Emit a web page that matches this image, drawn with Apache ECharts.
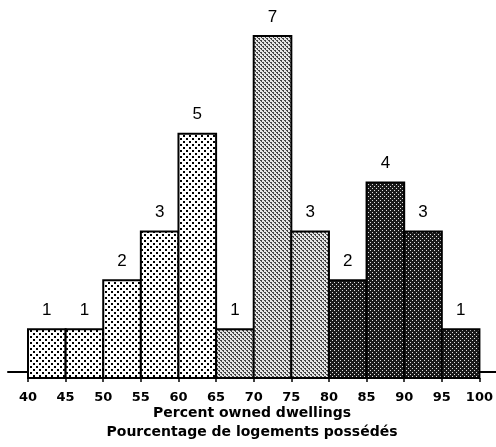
<!DOCTYPE html>
<html>
<head>
<meta charset="utf-8">
<script src="https://cdn.jsdelivr.net/npm/echarts@6/dist/echarts.min.js"></script>
<style>html,body{margin:0;padding:0;background:#fff;}#chart{width:496px;height:447px;}</style>
</head>
<body>
<div id="chart"></div>
<script>
// Data
const binStarts = [40, 45, 50, 55, 60, 65, 70, 75, 80, 85, 90, 95];
const binEnds   = [45, 50, 55, 60, 65, 70, 75, 80, 85, 90, 95, 100];
const counts    = [1, 1, 2, 3, 5, 1, 7, 3, 2, 4, 3, 1];
const groups    = ['light', 'light', 'light', 'light', 'light', 'medium', 'medium', 'medium', 'dark', 'dark', 'dark', 'dark'];
const tickValues = [40, 45, 50, 55, 60, 65, 70, 75, 80, 85, 90, 95, 100];
const axisTitle = 'Percent owned dwellings\nPourcentage de logements possédés';

function makePattern(size, bg, fg, pts) {
  const c = document.createElement('canvas');
  c.width = size; c.height = size;
  const ctx = c.getContext('2d');
  ctx.fillStyle = bg; ctx.fillRect(0, 0, size, size);
  ctx.fillStyle = fg;
  pts.forEach(p => ctx.fillRect(p[0], p[1], p[2] || 1, p[3] || 1));
  return { image: c, repeat: 'repeat' };
}
const patterns = {
  light: makePattern(6, '#ffffff', '#000000', [[0,0,2,2],[3,3,2,2]]),
  medium: makePattern(4, '#e4e4e4', '#444444', [[0,0],[1,0],[2,2],[3,2],[1,1],[3,3]]),
  dark: makePattern(4, '#1a1a1a', '#e0e0e0', [[0,0],[2,2]])
};

const data = binStarts.map((s, i) => [s, binEnds[i], counts[i], i]);

const chart = echarts.init(document.getElementById('chart'), null, { renderer: 'canvas' });
chart.setOption({
  animation: false,
  backgroundColor: '#ffffff',
  grid: [
    { left: 28, right: 14, top: 36, bottom: 69 },
    { left: 8, right: 0, top: 36, bottom: 69 }
  ],
  xAxis: [
    {
      type: 'value', gridIndex: 0, min: 40, max: 100, interval: 5,
      axisLine: { show: false },
      axisTick: { show: true, length: 4, lineStyle: { color: '#000', width: 1.5 } },
      axisLabel: {
        color: '#000', fontFamily: 'DejaVu Sans', fontWeight: 'bold', fontSize: 13, margin: 13,
        formatter: v => tickValues.indexOf(v) >= 0 ? String(v) : ''
      },
      splitLine: { show: false }
    },
    {
      type: 'value', gridIndex: 1, min: 0, max: 1,
      axisLine: { show: true, onZero: false, lineStyle: { color: '#000', width: 2 } },
      axisTick: { show: false }, axisLabel: { show: false }, splitLine: { show: false },
      name: axisTitle, nameLocation: 'middle', nameGap: 32,
      nameTextStyle: { color: '#000', fontFamily: 'DejaVu Sans', fontWeight: 'bold', fontSize: 14, lineHeight: 19 }
    }
  ],
  yAxis: [
    { type: 'value', gridIndex: 0, min: 0, max: 7, show: false },
    { type: 'value', gridIndex: 1, min: 0, max: 1, show: false }
  ],
  series: [{
    type: 'custom',
    xAxisIndex: 0, yAxisIndex: 0,
    data: data,
    renderItem: function (params, api) {
      const x0 = api.value(0), x1 = api.value(1), v = api.value(2);
      const idx = api.value(3);
      const pTop = api.coord([x0, v]);
      const pBot = api.coord([x1, 0]);
      return {
        type: 'group',
        children: [
          {
            type: 'rect',
            shape: { x: pTop[0], y: pTop[1], width: pBot[0] - pTop[0], height: pBot[1] - pTop[1] },
            style: { fill: patterns[groups[idx]], stroke: '#000', lineWidth: 2 }
          },
          {
            type: 'text',
            x: (pTop[0] + pBot[0]) / 2, y: pTop[1] - 19,
            style: {
              text: String(v), fill: '#000', align: 'center', verticalAlign: 'middle',
              fontFamily: 'Liberation Sans', fontSize: 17
            }
          }
        ]
      };
    }
  }]
});
</script>
</body>
</html>
